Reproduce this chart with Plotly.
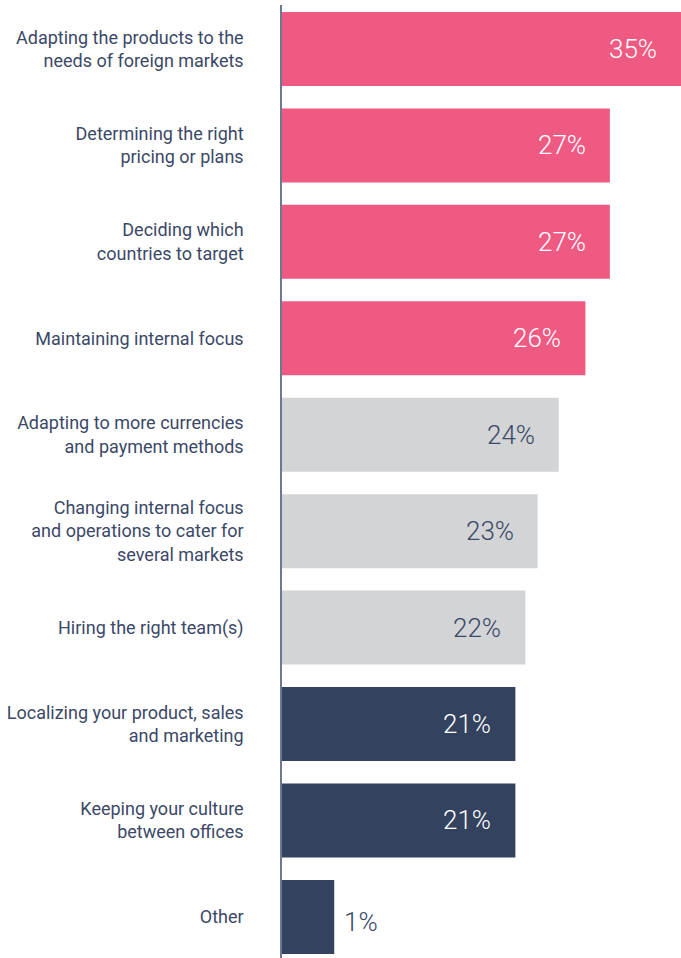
import plotly.graph_objects as go

categories = [
    "Adapting the products to the<br>needs of foreign markets",
    "Determining the right<br>pricing or plans",
    "Deciding which<br>countries to target",
    "Maintaining internal focus",
    "Adapting to more currencies<br>and payment methods",
    "Changing internal focus<br>and operations to cater for<br>several markets",
    "Hiring the right team(s)",
    "Localizing your product, sales<br>and marketing",
    "Keeping your culture<br>between offices",
    "Other",
]
# printed percentages
values = [35, 27, 27, 26, 24, 23, 22, 21, 21, 1]
# bar extents as drawn in the picture (percent units)
bar_lengths = [35.9, 29.5, 29.5, 27.3, 24.9, 23.0, 21.9, 21.0, 21.0, 4.7]
groups = ["top", "top", "top", "top", "mid", "mid", "mid", "low", "low", "low"]

PINK = "#EF5A83"
GRAY = "#D3D4D6"
NAVY = "#32425F"
TEXT = "#3B4868"
bar_colors = {"top": PINK, "mid": GRAY, "low": NAVY}
label_colors = {"top": "white", "mid": TEXT, "low": "white"}

fig = go.Figure(go.Bar(
    x=bar_lengths,
    y=categories,
    orientation="h",
    marker=dict(color=[bar_colors[g] for g in groups], line=dict(width=0)),
    hoverinfo="skip",
))

annotations = []
for cat, v, L, g in zip(categories, values, bar_lengths, groups):
    inside = v >= 5
    annotations.append(dict(
        x=L, y=cat, xref="x", yref="y",
        text=f"{v}%",
        showarrow=False,
        xanchor="right" if inside else "left",
        xshift=-22 if inside else 8,
        yshift=0 if inside else -5,
        font=dict(family="Roboto", size=26, weight=300,
                  color=label_colors[g] if inside else TEXT),
    ))

fig.update_layout(
    width=681, height=958,
    margin=dict(l=282, r=0, t=5, b=0),
    paper_bgcolor="white", plot_bgcolor="white",
    bargap=0.233,
    showlegend=False,
    annotations=annotations,
    xaxis=dict(range=[0, 35.9], visible=False, fixedrange=True),
    yaxis=dict(
        type="category",
        categoryorder="array", categoryarray=categories,
        range=[9.426, -0.456],
        showline=True, linecolor="#6F7891", linewidth=1.5,
        showgrid=False, zeroline=False, ticks="",
        ticklabelstandoff=33,
        tickfont=dict(family="Roboto", size=18, color=TEXT),
    ),
)

fig.write_html(
    "out.html",
    config={"displayModeBar": False},
    post_script="document.body.style.margin='0';document.body.style.overflow='hidden';",
)
